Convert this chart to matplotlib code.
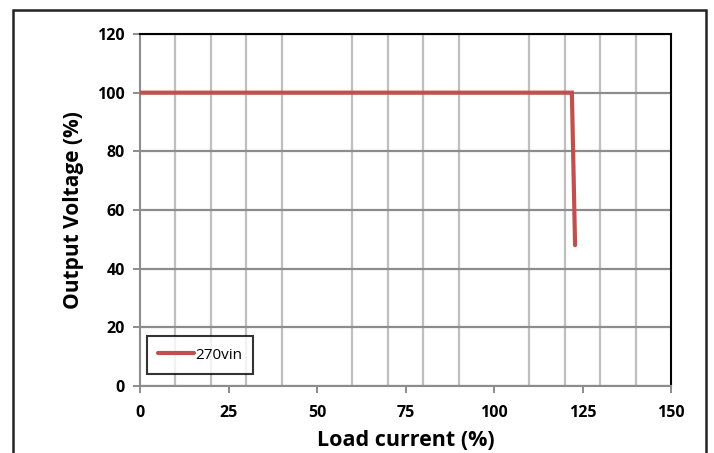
import matplotlib
matplotlib.use('Agg')
import matplotlib.pyplot as plt
from matplotlib.patches import Rectangle
from matplotlib.ticker import MultipleLocator

# load current (%) vs output voltage (%)
load_current = [0, 10, 25, 50, 75, 100, 110, 120, 122.0, 122.9]
output_voltage = [100, 100, 100, 100, 100, 100, 100, 100, 100, 48]
series_name = '270vin'

x_ticks = [0, 25, 50, 75, 100, 125, 150]
y_ticks = [0, 20, 40, 60, 80, 100, 120]

plt.rcParams['font.family'] = ['Open Sans', 'DejaVu Sans']

fig = plt.figure(figsize=(7.14, 4.53), dpi=100)
ax = fig.add_axes([140/714, 1 - 386/453, 531/714, 352/453])

ax.plot(load_current, output_voltage, color='#C0504D', lw=3.0,
        solid_capstyle='round', solid_joinstyle='miter', label=series_name, zorder=3)

ax.set_xlim(0, 150)
ax.set_ylim(0, 120)
ax.set_xticks(x_ticks)
ax.set_yticks(y_ticks)
ax.xaxis.set_minor_locator(MultipleLocator(10))
ax.grid(which='minor', axis='x', color='#bfbfbf', lw=1.6)
ax.grid(which='major', axis='y', color='#8c8c8c', lw=1.6)
ax.tick_params(axis='x', which='minor', length=0)
ax.tick_params(axis='both', which='major', direction='out', length=5,
               width=1.4, color='#8c8c8c', labelsize=11.5)
ax.tick_params(axis='x', which='major', pad=9)
ax.tick_params(axis='y', which='major', pad=6)
for lab in ax.get_xticklabels() + ax.get_yticklabels():
    lab.set_fontweight('bold')

ax.spines['top'].set_color('black')
ax.spines['right'].set_color('black')
ax.spines['left'].set_color('#8c8c8c')
ax.spines['bottom'].set_color('#8c8c8c')
for sp in ax.spines.values():
    sp.set_linewidth(1.5)

ax.set_xlabel('Load current (%)', fontsize=15.5, fontweight='bold', labelpad=6)
ax.set_ylabel('Output Voltage (%)', fontsize=15, fontweight='bold', labelpad=9)

leg = ax.legend(loc='lower left', bbox_to_anchor=(0.013, 0.034), fontsize=11,
                frameon=True, fancybox=False, handlelength=2.3, handletextpad=0.1,
                borderpad=0.75, borderaxespad=0)
leg.get_frame().set_edgecolor('black')
leg.get_frame().set_linewidth(1.5)
leg.get_frame().set_boxstyle('square', pad=0)

# outer chart frame
fig.patches.append(Rectangle((13/714, -0.05), (706 - 13)/714, 1.05 - 10/453,
                             transform=fig.transFigure, fill=False,
                             edgecolor='#222222', lw=1.8))

fig.savefig('out.png', dpi=100)
